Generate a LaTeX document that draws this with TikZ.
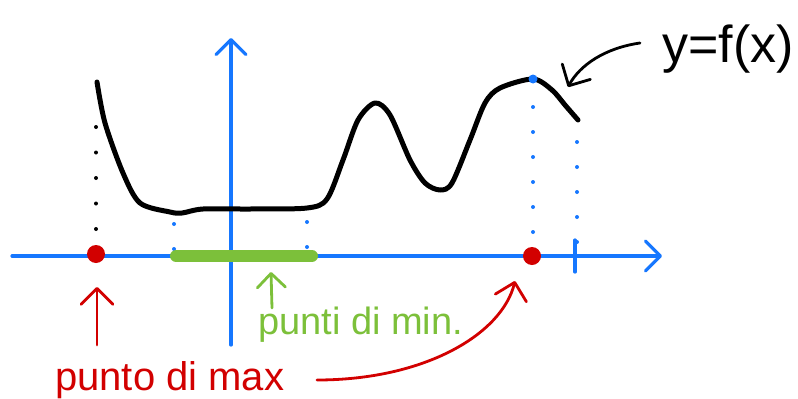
\documentclass[tikz,border=0pt]{standalone}
\usepackage{fontspec}
\setmainfont{Liberation Sans}
\usetikzlibrary{arrows.meta}
\definecolor{axblue}{RGB}{22,119,255}
\definecolor{mred}{RGB}{210,0,0}
\definecolor{mgreen}{RGB}{124,192,58}
\tikzset{
  axis/.style={axblue, line width=3.2pt, line cap=round},
  graph/.style={black, line width=5pt, line cap=round, line join=round},
  bluedots/.style={axblue, line width=4pt, line cap=round, dash pattern=on 0pt off 25pt},
  blackdots/.style={black, line width=4pt, line cap=round, dash pattern=on 0pt off 25.5pt},
  barb/.style={-{Straight Barb[length=#1, width=2*#1, line cap=round, round]}},
  pen/.style={line width=2.8pt, line cap=round, line join=round},
  lbl/.style={inner sep=0pt, anchor=base west}
}
\begin{document}
\begin{tikzpicture}[x=1pt, y=-1pt]
\useasboundingbox (0,0) rectangle (798,399);
% coordinates
\coordinate (xs) at (12,256);
\coordinate (xe) at (662,256);
\coordinate (ys) at (231,345);
\coordinate (ye) at (231,38);
\coordinate (maxpt) at (96,254);
\coordinate (maxpt2) at (532,256);
\coordinate (peak) at (533,79);
% axes
\draw[axis, barb=15pt] (xs) -- (xe);
\draw[axis, barb=15pt] (ys) -- (ye);
\draw[axis] (575,240) -- (575,272);
% dotted projections
\draw[blackdots] (96,127) -- (96,235);
\draw[bluedots] (174,224) -- (174,250);
\draw[bluedots] (307,222) -- (307,250);
\draw[bluedots] (533,107) -- (533,240);
\draw[bluedots] (577,142) -- (577,242);
% green bar of minima
\draw[mgreen, line width=12pt, line cap=round] (176,256) -- (312,256);
% graph of f
\draw[graph] plot[smooth, tension=0.5] coordinates {
 (97,82) (105,123) (123,173) (140,203) (170,212) (182,213) (203,209)
 (250,209) (307,208) (327,199) (343,160) (358,120) (375,103) (390,115)
 (410,160) (425,183) (440,190) (452,183) (470,140) (485,103) (500,88)
 (533,79) (552,90) (565,105) (578,120)};
% points
\fill[axblue] (peak) circle (4.5pt);
\fill[mred] (maxpt) circle (9pt);
\fill[mred] (maxpt2) circle (9pt);
% labels
\node[lbl, text=mred, font=\fontsize{40}{42}\selectfont] (lmax) at (55,390) {punto di max};
\node[lbl, text=mgreen, font=\fontsize{38}{40}\selectfont] (lmin) at (258,334) {punti di min.};
\node[lbl, font=\fontsize{52}{54}\selectfont] (lf) at (662,62) {y=f(x)};
% arrows
\draw[mred, pen, barb=16pt] (97,345) -- (97,287);
\draw[mgreen, pen, barb=14pt] (272,308) -- (271,272);
\draw[mred, pen, barb=16pt] (317,380) .. controls (425,380) and (502,334) .. (515,281);
\draw[black, pen, barb=16pt] (640,43) .. controls (605,48) and (580,65) .. (568,87);
\end{tikzpicture}
\end{document}
